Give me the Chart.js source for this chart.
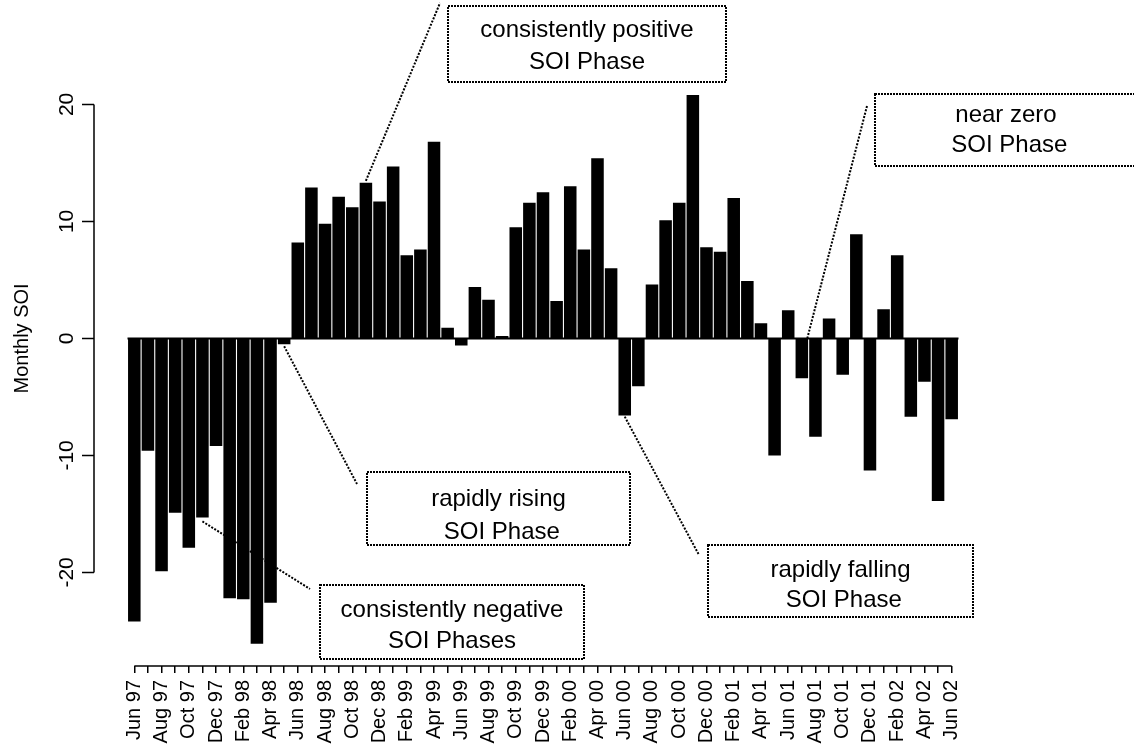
<!DOCTYPE html>
<html>
<head>
<meta charset="utf-8">
<script src="https://cdn.jsdelivr.net/npm/chart.js@4.4.1/dist/chart.umd.min.js"></script>
<style>
    html, body { margin: 0; padding: 0; background: #fff; overflow: hidden; }
    canvas { display: block; }
</style>
</head>
<body>
<canvas id="soiChart" width="1134" height="744"></canvas>
<script>
// monthly SOI, Jun 1997 - Jun 2002
const months = [
    'Jun 97', 'Jul 97', 'Aug 97', 'Sep 97', 'Oct 97', 'Nov 97', 'Dec 97',
    'Jan 98', 'Feb 98', 'Mar 98', 'Apr 98', 'May 98', 'Jun 98', 'Jul 98', 'Aug 98', 'Sep 98', 'Oct 98', 'Nov 98', 'Dec 98',
    'Jan 99', 'Feb 99', 'Mar 99', 'Apr 99', 'May 99', 'Jun 99', 'Jul 99', 'Aug 99', 'Sep 99', 'Oct 99', 'Nov 99', 'Dec 99',
    'Jan 00', 'Feb 00', 'Mar 00', 'Apr 00', 'May 00', 'Jun 00', 'Jul 00', 'Aug 00', 'Sep 00', 'Oct 00', 'Nov 00', 'Dec 00',
    'Jan 01', 'Feb 01', 'Mar 01', 'Apr 01', 'May 01', 'Jun 01', 'Jul 01', 'Aug 01', 'Sep 01', 'Oct 01', 'Nov 01', 'Dec 01',
    'Jan 02', 'Feb 02', 'Mar 02', 'Apr 02', 'May 02', 'Jun 02'
];
const soiValues = [
    -24.2, -9.6, -19.9, -14.9, -17.9, -15.3, -9.2,
    -22.2, -22.3, -26.1, -22.6, -0.5, 8.2, 12.9, 9.8, 12.1, 11.2, 13.3, 11.7,
    14.7, 7.1, 7.6, 16.8, 0.9, -0.6, 4.4, 3.3, 0.2, 9.5, 11.6, 12.5,
    3.2, 13.0, 7.6, 15.4, 6.0, -6.6, -4.1, 4.6, 10.1, 11.6, 20.8, 7.8,
    7.4, 12.0, 4.9, 1.3, -10.0, 2.4, -3.4, -8.4, 1.7, -3.1, 8.9, -11.3,
    2.5, 7.1, -6.7, -3.7, -13.9, -6.9
];
const yTicks = [-20, -10, 0, 10, 20];
const yTitle = 'Monthly SOI';

// phase notes: pointer starts at a bar (index, value), box and text rows placed in pixels
const phaseNotes = [
    { lines: ['consistently positive', 'SOI Phase'], at: [17, 13.3], dy: -2, to: [440, 3], box: [448, 6, 278, 76], rows: [30, 62] },
    { lines: ['near zero', ' SOI Phase'], at: [49.4, 0], dy: 0, to: [867, 106], box: [875, 94, 262, 72], rows: [115, 145] },
    { lines: ['rapidly rising', ' SOI Phase'], at: [11, -0.5], dy: 2, to: [357, 484], box: [367, 472, 263, 73], rows: [499, 532] },
    { lines: ['consistently negative', 'SOI Phases'], at: [5, -15.3], dy: 4, to: [310, 589], box: [320, 585, 264, 74], rows: [610, 641] },
    { lines: ['rapidly falling', ' SOI Phase'], at: [36, -6.6], dy: 1, to: [699, 555], box: [708, 545, 265, 72], rows: [570, 600] }
];

const fontFamily = "'Liberation Sans', Arial, Helvetica, sans-serif";

const soiDecor = {
    id: 'soiDecor',
    beforeDatasetsDraw(chart) {
        // pointer lines go under the bars
        const { ctx, scales: { x, y } } = chart;
        ctx.save();
        ctx.strokeStyle = '#000';
        ctx.lineWidth = 2;
        ctx.setLineDash([2, 1.5]);
        phaseNotes.forEach(function (n) {
            ctx.beginPath();
            ctx.moveTo(x.getPixelForValue(n.at[0]), y.getPixelForValue(n.at[1]) + n.dy);
            ctx.lineTo(n.to[0], n.to[1]);
            ctx.stroke();
        });
        ctx.restore();
    },
    afterDatasetsDraw(chart) {
        const { ctx, scales: { x, y } } = chart;
        ctx.save();
        ctx.strokeStyle = '#000';
        ctx.fillStyle = '#000';

        // line along zero under the bars
        ctx.lineWidth = 2;
        ctx.beginPath();
        ctx.moveTo(x.left, y.getPixelForValue(0));
        ctx.lineTo(x.right, y.getPixelForValue(0));
        ctx.stroke();

        // x axis line from first to last tick
        ctx.lineWidth = 1.5;
        ctx.beginPath();
        ctx.moveTo(x.getPixelForValue(0), chart.chartArea.bottom);
        ctx.lineTo(x.getPixelForValue(months.length - 1), chart.chartArea.bottom);
        ctx.stroke();

        // y axis, R style
        const ax = 94;
        ctx.beginPath();
        ctx.moveTo(ax, y.getPixelForValue(yTicks[0]));
        ctx.lineTo(ax, y.getPixelForValue(yTicks[yTicks.length - 1]));
        yTicks.forEach(function (t) {
            ctx.moveTo(ax, y.getPixelForValue(t));
            ctx.lineTo(ax - 12, y.getPixelForValue(t));
        });
        ctx.stroke();

        ctx.font = '21px ' + fontFamily;
        ctx.textAlign = 'center';
        ctx.textBaseline = 'alphabetic';
        yTicks.forEach(function (t) {
            ctx.save();
            ctx.translate(73, y.getPixelForValue(t));
            ctx.rotate(-Math.PI / 2);
            ctx.fillText(String(t), 0, 0);
            ctx.restore();
        });
        ctx.font = '20px ' + fontFamily;
        ctx.save();
        ctx.translate(28, y.getPixelForValue(0));
        ctx.rotate(-Math.PI / 2);
        ctx.fillText(yTitle, 0, 0);
        ctx.restore();

        // note boxes
        ctx.lineWidth = 2;
        ctx.setLineDash([2, 1]);
        ctx.font = '24px ' + fontFamily;
        ctx.textBaseline = 'middle';
        phaseNotes.forEach(function (n) {
            const [bx, by, bw, bh] = n.box;
            ctx.fillStyle = '#fff';
            ctx.fillRect(bx, by, bw, bh);
            ctx.strokeRect(bx, by, bw, bh);
            ctx.fillStyle = '#000';
            const cx = bx + bw / 2;
            ctx.fillText(n.lines[0], cx, n.rows[0]);
            ctx.fillText(n.lines[1], cx, n.rows[1]);
        });
        ctx.restore();
    }
};

const ctx = document.getElementById('soiChart').getContext('2d');
const soiChart = new Chart(ctx, {
    type: 'bar',
    data: {
        labels: months,
        datasets: [{
            label: yTitle,
            data: soiValues,
            backgroundColor: '#000',
            borderWidth: 0,
            barPercentage: 0.92,
            categoryPercentage: 1.0
        }]
    },
    options: {
        responsive: false,
        animation: false,
        devicePixelRatio: 1,
        layout: {
            padding: { left: 127.5, right: 175.5, top: 57.6, bottom: 0 }
        },
        plugins: {
            legend: { display: false },
            tooltip: { enabled: false }
        },
        scales: {
            x: {
                offset: true,
                afterFit: function (scale) { scale.height = 78; },
                border: { display: false },
                grid: {
                    offset: false,
                    drawOnChartArea: false,
                    drawTicks: true,
                    tickLength: 7,
                    color: '#000',
                    lineWidth: 1.5
                },
                ticks: {
                    autoSkip: false,
                    minRotation: 90,
                    maxRotation: 90,
                    padding: 7,
                    color: '#000',
                    font: { family: fontFamily, size: 20 },
                    callback: function (val, i) {
                        return i % 2 === 0 ? months[i] : '';
                    }
                }
            },
            y: {
                display: false,
                min: -28,
                max: 24
            }
        }
    },
    plugins: [soiDecor]
});
</script>
</body>
</html>
